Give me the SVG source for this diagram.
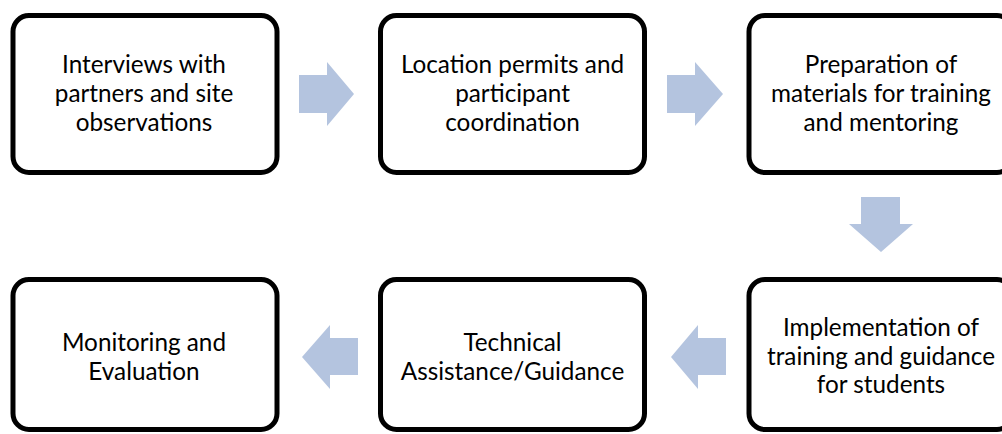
<svg xmlns="http://www.w3.org/2000/svg" width="1002" height="434" viewBox="0 0 1002 434">
<style>
.box{fill:#fff;stroke:#000;stroke-width:5}
.lbl{font-family:Lato,"Liberation Sans",sans-serif;font-size:24.3px;fill:#000;text-anchor:middle}
.arr{fill:#B4C4DF}
</style>
<rect width="1002" height="434" fill="#fff"/>
<g id="connectors">
<polygon class="arr" points="299,75 327,75 327,62 354,94 327,126 327,113 299,113"/>
<polygon class="arr" points="667,75 695,75 695,62 723,94 695,126 695,113 667,113"/>
<polygon class="arr" points="861,197 900,197 900,224 913,224 881,252 849,224 861,224"/>
<polygon class="arr" points="726,338 698,338 698,325 671,357 698,389 698,375 726,375"/>
<polygon class="arr" points="358,338 330,338 330,325 302,357 330,389 330,375 358,375"/>
</g>
<g id="n1">
<rect class="box" x="13" y="15.5" width="264" height="157" rx="16"/>
<text class="lbl" x="144" y="73">Interviews with</text>
<text class="lbl" x="144" y="102">partners and site</text>
<text class="lbl" x="144" y="131">observations</text>
</g>
<g id="n2">
<rect class="box" x="380.5" y="15.5" width="264" height="157" rx="16"/>
<text class="lbl" x="512.5" y="73">Location permits and</text>
<text class="lbl" x="512.5" y="102">participant</text>
<text class="lbl" x="512.5" y="131">coordination</text>
</g>
<g id="n3">
<rect class="box" x="749" y="15.5" width="264" height="157" rx="16"/>
<text class="lbl" x="881" y="73">Preparation of</text>
<text class="lbl" x="881" y="102">materials for training</text>
<text class="lbl" x="881" y="131">and mentoring</text>
</g>
<g id="n4">
<rect class="box" x="749" y="279.5" width="264" height="150" rx="16"/>
<text class="lbl" x="881" y="336">Implementation of</text>
<text class="lbl" x="881" y="364.5">training and guidance</text>
<text class="lbl" x="881" y="393">for students</text>
</g>
<g id="n5">
<rect class="box" x="380.5" y="279.5" width="264" height="150" rx="16"/>
<text class="lbl" x="512.5" y="351">Technical</text>
<text class="lbl" x="512.5" y="380">Assistance/Guidance</text>
</g>
<g id="n6">
<rect class="box" x="13" y="279.5" width="264" height="150" rx="16"/>
<text class="lbl" x="144" y="351">Monitoring and</text>
<text class="lbl" x="144" y="380">Evaluation</text>
</g>
</svg>
